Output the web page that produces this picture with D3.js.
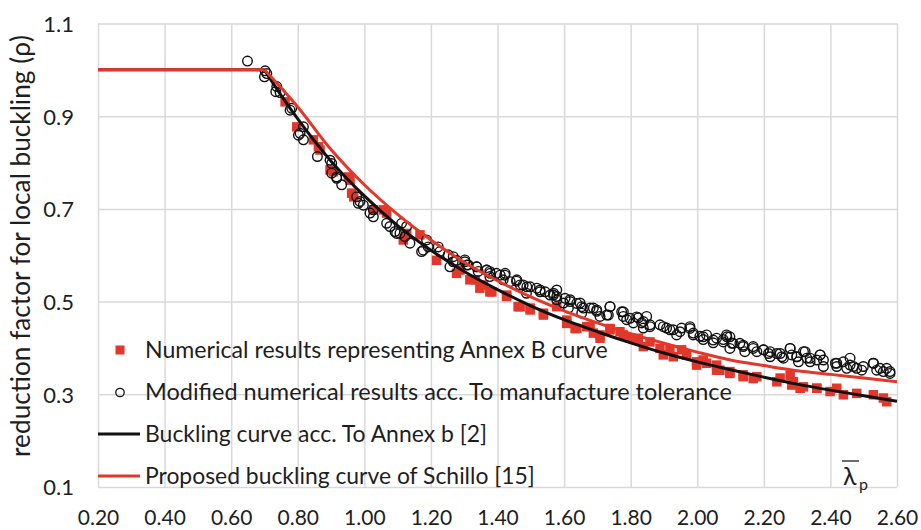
<!DOCTYPE html>
<html><head><meta charset="utf-8">
<script src="https://cdn.jsdelivr.net/npm/d3@7/dist/d3.min.js"></script>
<style>
body{margin:0;background:#fff}
svg{display:block}
text{font-family:Lato,'Open Sans',sans-serif;fill:#1e1e1e}
</style>
</head><body>
<svg id="chart" width="921" height="530"></svg>
<script>
// ---------- data ----------
const xTicks = [0.2,0.4,0.6,0.8,1.0,1.2,1.4,1.6,1.8,2.0,2.2,2.4,2.6];
const yTicks = [0.1,0.3,0.5,0.7,0.9,1.1];

const annexX   = [0.2,0.7,0.75,0.8,0.9,1.0,1.1,1.2,1.3,1.4,1.5,1.6,1.7,1.8,1.9,2.0,2.1,2.2,2.3,2.4,2.5,2.6];
const annexRho = [1.0,1.0,0.945,0.894,0.803,0.728,0.664,0.611,0.565,0.526,0.491,0.461,0.435,0.411,0.389,0.370,0.353,0.337,0.322,0.309,0.297,0.285];

const schilloX   = [0.2,0.7,0.8,0.9,1.0,1.1,1.2,1.3,1.4,1.5,1.6,1.7,1.8,1.9,2.0,2.1,2.2,2.3,2.4,2.5,2.6];
const schilloRho = [1.0,1.0,0.920,0.828,0.752,0.688,0.633,0.585,0.545,0.510,0.480,0.454,0.431,0.410,0.391,0.374,0.362,0.351,0.343,0.335,0.327];

const squareX = [0.762,0.797,0.847,0.862,0.867,0.897,0.907,0.952,0.957,0.962,0.968,1.027,1.057,1.067,1.117,1.127,1.167,1.217,1.277,1.287,1.317,1.347,1.377,1.427,1.462,1.498,1.538,1.578,1.608,1.633,1.668,1.688,1.708,1.738,1.768,1.798,1.823,1.858,1.888,1.918,1.953,1.968,1.998,2.028,2.058,2.068,2.098,2.138,2.168,2.239,2.279,2.284,2.309,2.359,2.419,2.439,2.479,2.529,2.559,2.569,
1.333,1.358,1.383,1.428,1.468,1.498,1.538,1.608,1.638,1.678,1.708,1.738,1.778,1.818,1.838,1.898,1.928,1.998,2.018,2.058,2.098,2.138,2.179,2.249,2.289,2.319,2.359,2.399];
const squareRho = [0.931,0.877,0.849,0.834,0.827,0.784,0.780,0.769,0.762,0.734,0.726,0.698,0.698,0.691,0.633,0.647,0.644,0.589,0.561,0.568,0.547,0.529,0.521,0.511,0.489,0.486,0.475,0.489,0.460,0.442,0.446,0.432,0.421,0.442,0.435,0.421,0.421,0.413,0.399,0.396,0.396,0.385,0.370,0.367,0.363,0.352,0.345,0.338,0.334,0.327,0.341,0.320,0.313,0.313,0.313,0.299,0.302,0.299,0.292,0.284,
0.547,0.536,0.521,0.514,0.489,0.482,0.471,0.453,0.442,0.446,0.428,0.439,0.428,0.417,0.403,0.385,0.381,0.363,0.374,0.352,0.349,0.342,0.338,0.335,0.327,0.316,0.313,0.306];

const circleX = [0.649,0.702,0.700,0.707,0.737,0.734,0.747,0.782,0.777,0.807,0.802,0.817,0.817,0.859,0.897,0.902,0.902,0.917,0.932,0.917,0.977,0.987,0.997,0.982,1.027,1.017,1.027,1.067,1.077,1.097,
1.092,1.107,1.122,1.137,1.127,1.112,1.187,1.177,1.172,1.192,1.222,1.227,1.252,1.257,1.267,1.277,1.302,1.312,1.337,1.342,1.367,1.377,1.397,1.422,1.417,1.377,1.457,1.477,1.498,1.528,1.543,1.568,1.578,1.487,
1.568,1.578,1.598,1.618,1.613,1.648,1.658,1.653,1.688,1.698,1.708,1.738,1.733,
1.773,1.778,1.788,1.808,1.823,1.833,1.848,1.838,1.858,1.888,1.908,1.928,1.938,1.953,1.978,1.988,2.008,2.018,2.028,2.048,2.058,2.078,2.088,
2.078,2.098,2.104,2.098,2.128,2.138,2.143,2.168,2.179,2.199,2.214,2.219,2.239,2.254,2.259,2.279,2.284,2.299,2.304,2.324,2.329,2.339,2.359,2.369,2.379,2.415,2.419,2.439,2.449,2.459,2.479,2.494,2.529,2.539,2.559,2.569,2.579,
1.267,1.302,1.308,1.338,1.368,1.378,1.408,1.423,1.438,1.458,1.468,1.488,1.518,1.528,1.558,1.578,1.603,1.618,1.638,1.653,1.678,1.698,1.738,1.728,1.778,1.798,1.818,1.838,1.858,1.898,1.918,1.948,1.978,1.988,2.018,2.048,2.089,2.108,2.138,2.168,2.199,2.219,2.249,2.279,2.299,2.319,2.339,2.369,2.379,2.419,2.459,2.469,2.499,2.529,2.549,2.579];
const circleRho = [1.019,0.998,0.985,0.992,0.964,0.953,0.951,0.917,0.913,0.863,0.859,0.849,0.877,0.813,0.805,0.798,0.777,0.769,0.752,0.766,0.726,0.716,0.708,0.712,0.698,0.691,0.683,0.669,0.662,0.647,
0.651,0.647,0.640,0.626,0.662,0.669,0.633,0.611,0.608,0.618,0.618,0.608,0.601,0.575,0.597,0.589,0.586,0.579,0.575,0.565,0.568,0.565,0.561,0.557,0.547,0.554,0.544,0.536,0.532,0.525,0.521,0.514,0.525,0.518,
0.518,0.504,0.497,0.504,0.486,0.497,0.486,0.475,0.486,0.479,0.468,0.489,0.471,
0.478,0.468,0.461,0.454,0.465,0.454,0.468,0.443,0.446,0.450,0.443,0.439,0.428,0.443,0.446,0.432,0.425,0.418,0.428,0.411,0.421,0.418,0.428,
0.413,0.424,0.410,0.399,0.410,0.403,0.392,0.399,0.392,0.396,0.388,0.381,0.388,0.381,0.378,0.399,0.385,0.381,0.370,0.392,0.378,0.370,0.374,0.385,0.360,0.367,0.360,0.370,0.356,0.363,0.356,0.352,0.367,0.352,0.349,0.356,0.345,
0.586,0.590,0.579,0.575,0.568,0.561,0.557,0.561,0.543,0.547,0.536,0.532,0.529,0.521,0.514,0.511,0.507,0.500,0.496,0.489,0.486,0.482,0.489,0.471,0.478,0.464,0.467,0.457,0.450,0.446,0.439,0.435,0.442,0.428,0.424,0.417,0.424,0.410,0.406,0.403,0.396,0.392,0.388,0.399,0.381,0.392,0.378,0.385,0.374,0.367,0.378,0.360,0.360,0.367,0.356,0.349];

const legendLabels = [
  "Numerical results representing Annex B curve",
  "Modified numerical results acc. To manufacture tolerance",
  "Buckling curve acc. To Annex b [2]",
  "Proposed buckling curve of Schillo [15]"
];
const yTitle = "reduction factor for local buckling (ρ)";

// ---------- drawing ----------
const RED = "#e2372a", BLACK = "#111111", GRID = "#d9d9d9";
const svg = d3.select("#chart");
const pLeft = 98, pRight = 897, pTop = 23.5, pBottom = 487;
const x = d3.scaleLinear().domain([0.2, 2.6]).range([pLeft, pRight]);
const y = d3.scaleLinear().domain([0.1, 1.1]).range([pBottom, pTop]);

function fit(sel, target) {
  const n = sel.node();
  const fs = parseFloat(sel.attr("font-size"));
  const w = n.getComputedTextLength();
  if (w > 0) sel.attr("font-size", (fs * target / w).toFixed(2));
}

// y axis + horizontal grid
const gy = svg.append("g").attr("transform", `translate(${pLeft},0)`)
  .call(d3.axisLeft(y).tickValues(yTicks).tickFormat(d3.format(".1f"))
        .tickSize(-(pRight - pLeft)).tickPadding(24));
gy.select(".domain").remove();
gy.selectAll(".tick line").attr("stroke", GRID).attr("stroke-width", 1.5);
gy.selectAll(".tick text").attr("font-size", 22).attr("font-family", "Lato").attr("fill", "#1e1e1e").attr("dy", "0.36em");

// x axis + vertical grid
const gx = svg.append("g").attr("transform", `translate(0,${pBottom})`)
  .call(d3.axisBottom(x).tickValues(xTicks).tickFormat(d3.format(".2f"))
        .tickSize(-(pBottom - pTop)));
gx.select(".domain").remove();
gx.selectAll(".tick line").attr("stroke", GRID).attr("stroke-width", 1.5);
gx.selectAll(".tick text").attr("font-size", 21).attr("font-family", "Lato").attr("fill", "#1e1e1e")
  .attr("y", 38).attr("dy", 0);

// squares
const sq = 9.5;
svg.append("g").selectAll("rect").data(squareX.map((v, i) => [v, squareRho[i]])).join("rect")
  .attr("x", d => x(d[0]) - sq / 2).attr("y", d => y(d[1]) - sq / 2)
  .attr("width", sq).attr("height", sq).attr("fill", RED);

// circles
svg.append("g").selectAll("circle").data(circleX.map((v, i) => [v, circleRho[i]])).join("circle")
  .attr("cx", d => x(d[0])).attr("cy", d => y(d[1])).attr("r", 4.8)
  .attr("fill", "none").attr("stroke", BLACK).attr("stroke-width", 1.4);

// curves: plateau straight, falling branch smooth
function drawCurve(xs, ys, color) {
  const pts = xs.map((v, i) => [v, ys[i]]);
  const lin = d3.line().x(d => x(d[0])).y(d => y(d[1]));
  const smooth = d3.line().x(d => x(d[0])).y(d => y(d[1])).curve(d3.curveMonotoneX);
  const g = svg.append("g").attr("fill", "none").attr("stroke", color).attr("stroke-width", 3)
    .attr("stroke-linejoin", "round");
  g.append("path").attr("d", lin(pts.slice(0, 2)));
  g.append("path").attr("d", smooth(pts.slice(1)));
}
drawCurve(annexX, annexRho, BLACK);
drawCurve(schilloX, schilloRho, RED);

// legend
const lg = svg.append("g");
const rows = [350, 392.5, 434, 476];
const targets = [463, 587, 342, 390];
lg.append("rect").attr("x", 120 - 4.5).attr("y", rows[0] - 4.5).attr("width", 9).attr("height", 9).attr("fill", RED);
lg.append("circle").attr("cx", 120).attr("cy", rows[1]).attr("r", 4.2).attr("fill", "none").attr("stroke", BLACK).attr("stroke-width", 1.3);
lg.append("line").attr("x1", 98).attr("x2", 140).attr("y1", rows[2]).attr("y2", rows[2]).attr("stroke", BLACK).attr("stroke-width", 3);
lg.append("line").attr("x1", 98).attr("x2", 140).attr("y1", rows[3]).attr("y2", rows[3]).attr("stroke", RED).attr("stroke-width", 3);
legendLabels.forEach((t, i) => {
  const tx = lg.append("text").attr("x", 145).attr("y", rows[i] + 7.5).attr("font-size", 21).text(t);
  fit(tx, targets[i]);
});

// y title
const yt = svg.append("text").attr("transform", "translate(30,246) rotate(-90)")
  .attr("text-anchor", "middle").attr("font-size", 21).text(yTitle);
fit(yt, 422);

// lambda_p label
svg.append("text").attr("x", 843).attr("y", 485).attr("font-size", 25).text("λ");
svg.append("line").attr("x1", 842).attr("x2", 859).attr("y1", 461).attr("y2", 461).attr("stroke", "#1e1e1e").attr("stroke-width", 1.3);
svg.append("text").attr("x", 859).attr("y", 490).attr("font-size", 16).text("p");
</script>
</body></html>
